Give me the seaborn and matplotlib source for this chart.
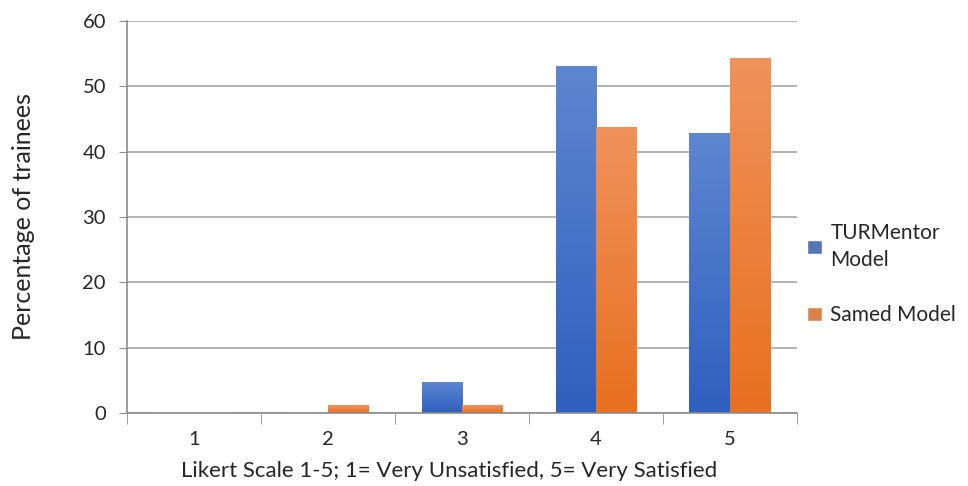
import numpy as np
import pandas as pd
import matplotlib
matplotlib.use('Agg')
import matplotlib.pyplot as plt
from matplotlib.colors import LinearSegmentedColormap
import seaborn as sns

# data
categories = ['1', '2', '3', '4', '5']
series_names = ['TURMentor Model', 'Samed Model']
turmentor = [0, 0, 4.6, 53.0, 42.7]
samed = [0, 1.2, 1.2, 43.6, 54.2]
legend_labels = ['TURMentor\nModel', 'Samed Model']

sns.set_style('white')
plt.rcParams['font.family'] = ['Lato', 'DejaVu Sans']

df = pd.DataFrame({
    'category': categories * 2,
    'series': [series_names[0]] * 5 + [series_names[1]] * 5,
    'value': turmentor + samed,
})

solid = {series_names[0]: '#4472c4', series_names[1]: '#ed7d31'}
grads = {
    series_names[0]: ('#2f5fbf', '#5e86d0'),
    series_names[1]: ('#e8701f', '#f0925c'),
}

fig = plt.figure(figsize=(9.68, 4.86), dpi=100)
ax = fig.add_axes([0.131, 0.150, 0.692, 0.807])

sns.barplot(data=df, x='category', y='value', hue='series', palette=solid,
            width=0.6, ax=ax, legend=True)

# gradient fill, per bar, taken from the patch bounds
grad = np.linspace(0, 1, 256).reshape(-1, 1)
n = len(categories)
for i, p in enumerate(ax.patches[:2 * n]):
    name = series_names[i // n]
    h = p.get_height()
    if h <= 0:
        continue
    cmap = LinearSegmentedColormap.from_list('g', grads[name])
    x0 = p.get_x()
    w = p.get_width()
    ax.imshow(grad, cmap=cmap, origin='lower', aspect='auto',
              extent=[x0, x0 + w, 0, h], zorder=2)
    p.set_facecolor('none')

ax.set_xlim(-0.5, n - 0.5)
ax.set_ylim(0, 60)
ax.set_yticks(range(0, 61, 10))
ax.grid(True, axis='y', color='#a6a6a6', linewidth=1.2, zorder=0)
ax.set_axisbelow(True)

for s in ['top', 'right']:
    ax.spines[s].set_visible(False)
for s in ['left', 'bottom']:
    ax.spines[s].set_color('#8c8c8c')
    ax.spines[s].set_linewidth(1.2)

ax.tick_params(axis='y', length=6, color='#8c8c8c', labelsize=14.5, pad=9,
               left=True)
ax.tick_params(axis='x', length=0, labelsize=14.5, pad=13)
ax.set_xticks(np.arange(-0.5, n, 1.0), minor=True)
ax.tick_params(axis='x', which='minor', length=8, color='#8c8c8c', bottom=True)

ax.set_xlabel('Likert Scale 1-5; 1= Very Unsatisfied, 5= Very Satisfied',
              fontsize=16)
ax.xaxis.set_label_coords(0.481, -0.122)
ax.set_ylabel('Percentage of trainees', fontsize=18, labelpad=34)

handles, _ = ax.get_legend_handles_labels()
leg = ax.legend(handles, legend_labels, loc='center left',
                bbox_to_anchor=(0.988, 0.355), frameon=False, fontsize=15,
                handlelength=0.7, handleheight=0.7, handletextpad=0.4,
                labelspacing=1.7)
for t in leg.get_texts():
    t.set_linespacing(1.45)

fig.savefig('out.png', dpi=100)
